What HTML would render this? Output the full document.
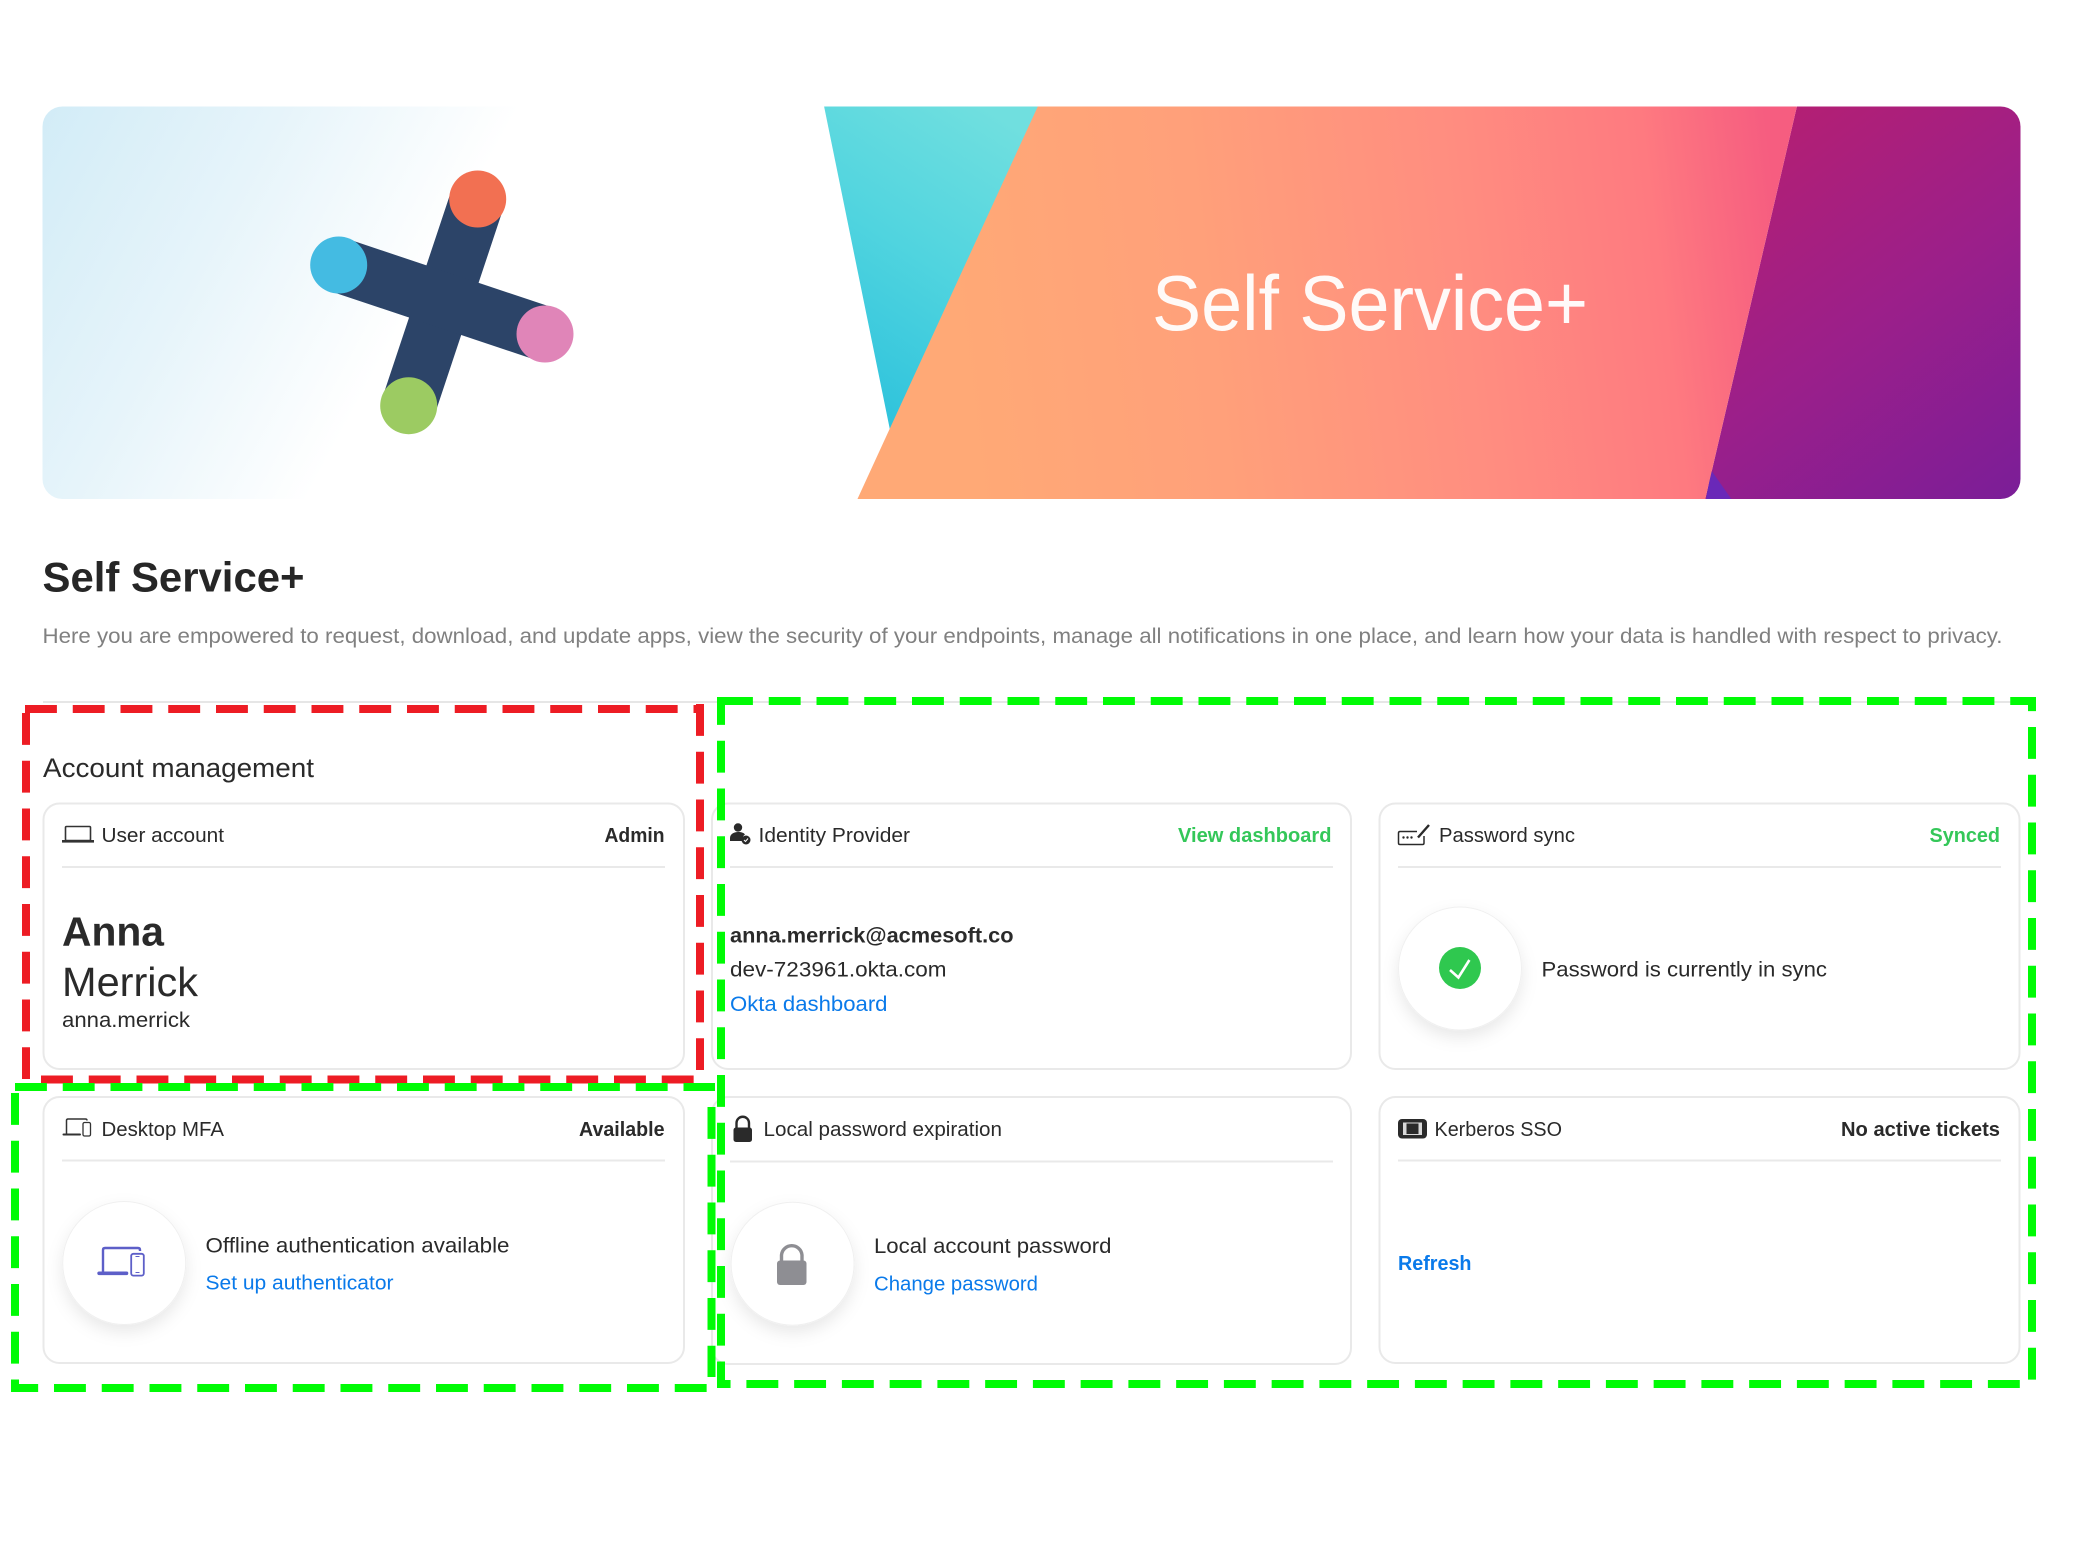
<!DOCTYPE html>
<html><head><meta charset="utf-8"><title>Self Service+</title>
<style>
html,body{margin:0;padding:0;background:#fff;width:2092px;height:1562px;overflow:hidden}
svg{display:block}
text{font-family:"Liberation Sans",sans-serif;fill:#2a2a2a}
.b{font-weight:bold}
.card{fill:#fff;stroke:#e9e9e9;stroke-width:2}
.div{stroke:#e9e9e9;stroke-width:2}
.r{stroke:#ed1c24;stroke-width:8;stroke-dasharray:31.9 15.85;fill:none}
.g{stroke:#00fb05;stroke-width:8;stroke-dasharray:31.9 15.85;fill:none}
.h{font-size:20px}
.bl{fill:#0a7aea}
.gr{fill:#34c759}
</style></head><body>
<svg width="2092" height="1562" viewBox="0 0 2092 1562" xmlns="http://www.w3.org/2000/svg">
<defs>
<clipPath id="ban"><rect x="42.5" y="106.5" width="1978" height="392.5" rx="20"/></clipPath>
<linearGradient id="lb" gradientUnits="userSpaceOnUse" x1="43" y1="106" x2="412" y2="306">
<stop offset="0" stop-color="#d2ecf7"/><stop offset=".5" stop-color="#e6f4fa"/><stop offset="1" stop-color="#ffffff"/></linearGradient>
<linearGradient id="teal" gradientUnits="userSpaceOnUse" x1="850" y1="400" x2="1020" y2="130">
<stop offset="0" stop-color="#2fc3dc"/><stop offset=".5" stop-color="#50d4df"/><stop offset="1" stop-color="#70dfdf"/></linearGradient>
<linearGradient id="org" gradientUnits="userSpaceOnUse" x1="960" y1="340" x2="1780" y2="240">
<stop offset="0" stop-color="#ffa976"/><stop offset=".3" stop-color="#ffa07a"/><stop offset=".62" stop-color="#ff8d80"/><stop offset=".85" stop-color="#fe7a80"/><stop offset="1" stop-color="#f65d80"/></linearGradient>
<linearGradient id="pur" gradientUnits="userSpaceOnUse" x1="1760" y1="110" x2="2040" y2="490">
<stop offset="0" stop-color="#b51f72"/><stop offset=".5" stop-color="#9b1f8a"/><stop offset="1" stop-color="#7a1e98"/></linearGradient>
<filter id="sh" x="-40%" y="-40%" width="180%" height="190%"><feDropShadow dx="0" dy="7" stdDeviation="8" flood-color="#000" flood-opacity=".09"/></filter>
</defs>

<!-- Banner -->
<g clip-path="url(#ban)">
<rect x="42" y="106" width="1979" height="394" fill="#fff"/>
<rect x="42" y="106" width="600" height="394" fill="url(#lb)"/>
<polygon points="824,106 1040,106 890,430" fill="url(#teal)"/>
<polygon points="1797,106 2021,106 2021,500 1705,500" fill="url(#pur)"/>
<polygon points="1706,500 1711,470 1732,500" fill="#6a28b8"/>
<polygon points="1038,106 1797,106 1705,500 857,500" fill="url(#org)"/>
</g>
<g stroke="#2c4468" stroke-width="55" fill="none">
<line x1="477.500" y1="199" x2="408.700" y2="405.700"/>
<line x1="338.700" y1="265" x2="545" y2="334"/>
</g>
<circle cx="477.700" cy="199" r="28.500" fill="#f27052"/>
<circle cx="338.700" cy="265" r="28.500" fill="#44bbe2"/>
<circle cx="545" cy="334" r="28.500" fill="#e085b8"/>
<circle cx="408.700" cy="405.700" r="28.500" fill="#9ccb62"/>
<text x="1152" y="330" font-size="78" textLength="436" lengthAdjust="spacingAndGlyphs" style="fill:#fff;fill-opacity:.95">Self Service+</text>

<!-- Heading -->
<text x="42.500" y="591.500" font-size="42" class="b" textLength="262" lengthAdjust="spacingAndGlyphs" style="fill:#262626">Self Service+</text>
<text x="42.500" y="643" font-size="21" textLength="1960" lengthAdjust="spacingAndGlyphs" style="fill:#808080">Here you are empowered to request, download, and update apps, view the security of your endpoints, manage all notifications in one place, and learn how your data is handled with respect to privacy.</text>

<line x1="43" y1="702" x2="2020" y2="702" stroke="#e6e6e6" stroke-width="2"/>
<text x="43" y="777" font-size="27" textLength="271" lengthAdjust="spacingAndGlyphs">Account management</text>

<!-- Cards -->
<rect class="card" x="43.500" y="803.500" width="640.500" height="265.500" rx="16"/>
<rect class="card" x="712" y="803.500" width="639" height="265.500" rx="16"/>
<rect class="card" x="1379.500" y="803.500" width="640" height="265.500" rx="16"/>
<rect class="card" x="43.500" y="1097" width="640.500" height="266" rx="16"/>
<rect class="card" x="712" y="1097" width="639" height="267" rx="16"/>
<rect class="card" x="1379.500" y="1097" width="640" height="266" rx="16"/>
<line class="div" x1="62" y1="867" x2="665" y2="867"/>
<line class="div" x1="730" y1="867" x2="1333" y2="867"/>
<line class="div" x1="1398" y1="867" x2="2001" y2="867"/>
<line class="div" x1="62" y1="1160.500" x2="665" y2="1160.500"/>
<line class="div" x1="730" y1="1161.500" x2="1333" y2="1161.500"/>
<line class="div" x1="1398" y1="1160.500" x2="2001" y2="1160.500"/>

<!-- User account -->
<g fill="none" stroke="#333" stroke-width="1.600"><rect x="65.500" y="826.500" width="25" height="14" rx="1"/></g>
<rect x="62" y="840" width="32" height="2.600" fill="#333"/>
<text class="h" x="101.500" y="842" textLength="122.500" lengthAdjust="spacingAndGlyphs">User account</text>
<text class="h b" x="604.500" y="842" textLength="60" lengthAdjust="spacingAndGlyphs">Admin</text>
<text class="b" x="62" y="945.500" font-size="41" textLength="102" lengthAdjust="spacingAndGlyphs">Anna</text>
<text x="62" y="996" font-size="41" textLength="136" lengthAdjust="spacingAndGlyphs">Merrick</text>
<text x="62" y="1027" font-size="21" textLength="128" lengthAdjust="spacingAndGlyphs">anna.merrick</text>

<!-- Identity Provider -->
<circle cx="738" cy="827.500" r="4.200" fill="#2a2a2a"/>
<path d="M730 841v-3c0-4 4-6 8-6s6 1 7 2.500c-2 1-3 4-2 6.500z" fill="#2a2a2a"/>
<circle cx="746" cy="840" r="4.500" fill="#2a2a2a"/>
<path d="M744 840l1.500 1.500 2.500-3" stroke="#fff" stroke-width="1" fill="none"/>
<text class="h" x="758.500" y="842" textLength="151.500" lengthAdjust="spacingAndGlyphs">Identity Provider</text>
<text class="h b gr" x="1178" y="842" textLength="153.500" lengthAdjust="spacingAndGlyphs">View dashboard</text>
<text class="b" x="730" y="942.500" font-size="21" textLength="283.500" lengthAdjust="spacingAndGlyphs">anna.merrick@acmesoft.co</text>
<text x="730" y="976.500" font-size="21" textLength="216.500" lengthAdjust="spacingAndGlyphs">dev-723961.okta.com</text>
<text class="bl" x="730" y="1011" font-size="21" textLength="157.500" lengthAdjust="spacingAndGlyphs">Okta dashboard</text>

<!-- Password sync -->
<path d="M1417 831.500h-17q-1.500 0-1.500 1.500v10q0 1.500 1.500 1.500h22.500q1.500 0 1.500-1.500v-7" fill="none" stroke="#2a2a2a" stroke-width="1.500"/>
<path d="M1418 837.500l11-12.500" stroke="#2a2a2a" stroke-width="2.400"/>
<circle cx="1403.500" cy="837.500" r="1.200" fill="#2a2a2a"/><circle cx="1407.500" cy="837.500" r="1.200" fill="#2a2a2a"/><circle cx="1411.500" cy="837.500" r="1.200" fill="#2a2a2a"/>
<text class="h" x="1439" y="842" textLength="136" lengthAdjust="spacingAndGlyphs">Password sync</text>
<text class="h b gr" x="1929.500" y="842" textLength="70.500" lengthAdjust="spacingAndGlyphs">Synced</text>
<circle cx="1460" cy="968.500" r="61.500" fill="#fff" stroke="#f0f0f0" stroke-width="1" filter="url(#sh)"/>
<circle cx="1460" cy="968" r="21" fill="#2fc84f"/>
<path d="M1450 970l8.400 7.500 11-17.500" fill="none" stroke="#fff" stroke-width="2.600"/>
<text x="1541.500" y="976.500" font-size="21" textLength="285.500" lengthAdjust="spacingAndGlyphs">Password is currently in sync</text>

<!-- Desktop MFA -->
<path d="M87 1120.500q0-1.500-1.500-1.500h-17.500q-1.500 0-1.500 1.500v13" fill="none" stroke="#333" stroke-width="1.500"/>
<rect x="83" y="1122.500" width="7.500" height="13.500" rx="1.500" fill="#fff" stroke="#333" stroke-width="1.300"/>
<rect x="62.500" y="1133.500" width="18.500" height="2" rx="1" fill="#333"/>
<text class="h" x="101.500" y="1136" textLength="122.500" lengthAdjust="spacingAndGlyphs">Desktop MFA</text>
<text class="h b" x="579" y="1136" textLength="85.500" lengthAdjust="spacingAndGlyphs">Available</text>
<circle cx="124.200" cy="1263" r="61.500" fill="#fff" stroke="#f0f0f0" stroke-width="1" filter="url(#sh)"/>
<path d="M140 1251v-1q0-2-2-2h-33q-2 0-2 2v22" fill="none" stroke="#5d5fc8" stroke-width="2.400"/>
<rect x="97.300" y="1271.500" width="31" height="3.600" rx="1.800" fill="#5d5fc8"/>
<rect x="131.200" y="1253.800" width="12.600" height="21.800" rx="2.200" fill="#fff" stroke="#5d5fc8" stroke-width="1.800"/>
<path d="M135.500 1256.500h4M135.500 1272.500h4" stroke="#5d5fc8" stroke-width="1"/>
<text x="205.500" y="1252.500" font-size="21" textLength="304" lengthAdjust="spacingAndGlyphs">Offline authentication available</text>
<text class="bl" x="205.500" y="1289.500" font-size="20" textLength="188" lengthAdjust="spacingAndGlyphs">Set up authenticator</text>

<!-- Local password -->
<rect x="733.500" y="1127.500" width="18.500" height="14.500" rx="2.500" fill="#2a2a2a"/>
<path d="M736.500 1128v-5a6 6 0 0 1 12.500 0v5" fill="none" stroke="#2a2a2a" stroke-width="2.400"/>
<text class="h" x="763.500" y="1136" textLength="238.500" lengthAdjust="spacingAndGlyphs">Local password expiration</text>
<circle cx="792.600" cy="1263.700" r="61.500" fill="#fff" stroke="#f0f0f0" stroke-width="1" filter="url(#sh)"/>
<rect x="777" y="1260.500" width="29.500" height="24.500" rx="3" fill="#8e8e93"/>
<path d="M781.500 1261v-6a10.300 10.300 0 0 1 20.500 0v6" fill="none" stroke="#8e8e93" stroke-width="3.400"/>
<text x="874" y="1253" font-size="21" textLength="237.500" lengthAdjust="spacingAndGlyphs">Local account password</text>
<text class="bl" x="874" y="1290.500" font-size="20" textLength="164" lengthAdjust="spacingAndGlyphs">Change password</text>

<!-- Kerberos -->
<rect x="1398" y="1119" width="29" height="19.500" rx="4" fill="#2a2a2a"/>
<rect x="1403" y="1122.500" width="19" height="12.500" fill="#d8d8d8"/>
<rect x="1406.500" y="1123.500" width="12" height="10.500" fill="#2a2a2a"/>
<text class="h" x="1434.500" y="1136" textLength="127.500" lengthAdjust="spacingAndGlyphs">Kerberos SSO</text>
<text class="h b" x="1841" y="1136" textLength="159" lengthAdjust="spacingAndGlyphs">No active tickets</text>
<text class="h b bl" x="1398" y="1270" textLength="73.500" lengthAdjust="spacingAndGlyphs">Refresh</text>

<!-- Dashed overlays -->
<line class="r" x1="25" y1="709" x2="704" y2="709"/>
<line class="r" x1="700" y1="704" x2="700" y2="1070"/>
<line class="r" x1="41" y1="1079.500" x2="695" y2="1079.500"/>
<line class="r" x1="26" y1="713" x2="26" y2="1079"/>

<line class="g" x1="15" y1="1087" x2="715" y2="1087"/>
<line class="g" x1="15" y1="1093" x2="15" y2="1392"/>
<line class="g" x1="11" y1="1388" x2="707" y2="1388" stroke-dashoffset="4.750"/>
<line class="g" x1="711.500" y1="1107" x2="711.500" y2="1377"/>

<line class="g" x1="721" y1="701" x2="2036" y2="701"/>
<line class="g" x1="721" y1="697" x2="721" y2="1388" stroke-dashoffset="4"/>
<line class="g" x1="2032" y1="697" x2="2032" y2="1380" stroke-dashoffset="17.750"/>
<line class="g" x1="717" y1="1384" x2="2020" y2="1384" stroke-dashoffset="18.350"/>
</svg>
</body></html>
